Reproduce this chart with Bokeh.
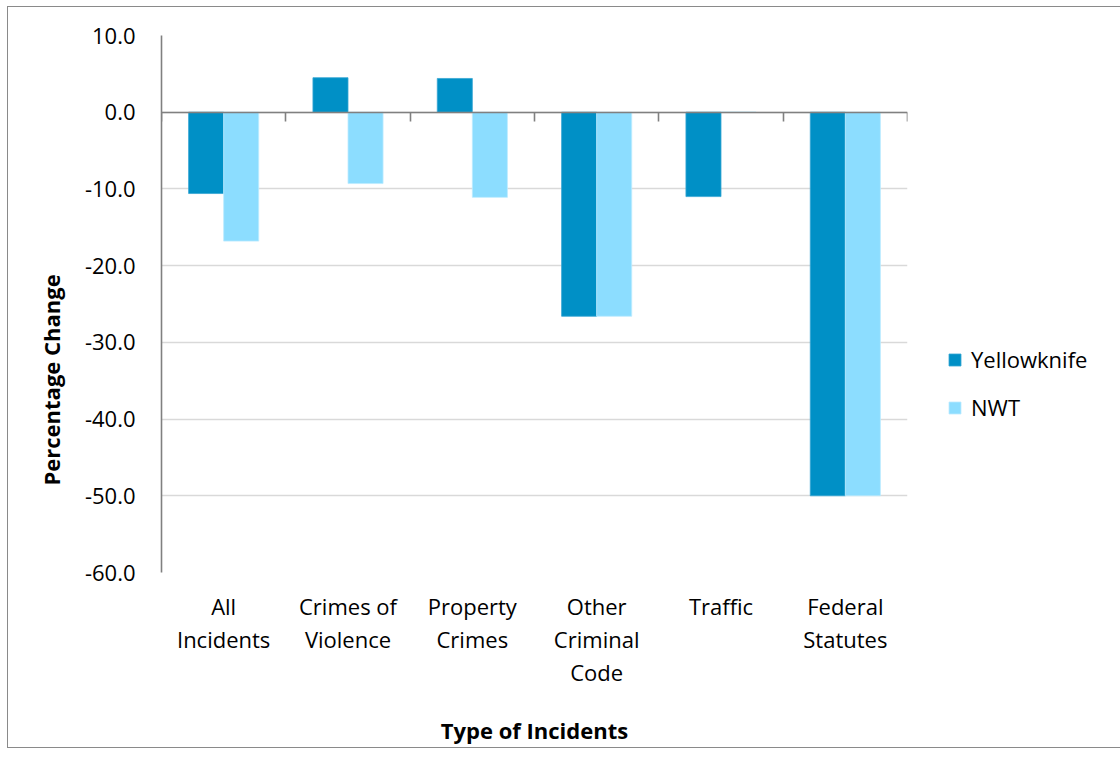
from bokeh.plotting import figure
from bokeh.models import (ColumnDataSource, FixedTicker, LinearAxis, NumeralTickFormatter,
                          Legend, LegendItem, Title, Range1d)
from bokeh.transform import dodge
from bokeh.embed import file_html
from bokeh.resources import INLINE

categories = ["All Incidents", "Crimes of Violence", "Property Crimes",
              "Other Criminal Code", "Traffic", "Federal Statutes"]
tick_labels = ["All\nIncidents", "Crimes of\nViolence", "Property\nCrimes",
               "Other\nCriminal\nCode", "Traffic", "Federal\nStatutes"]
yellowknife = [-10.6, 4.5, 4.4, -26.6, -11.0, -50.0]
nwt = [-16.8, -9.3, -11.1, -26.6, 0.0, -50.0]
series_names = ["Yellowknife", "NWT"]
y_ticks = [-60, -50, -40, -30, -20, -10, 0, 10]

FONT = "Open Sans"
YK_COLOR = "#0090C6"
NWT_COLOR = "#8CDDFF"
AXIS_COLOR = "#808080"
GRID_COLOR = "#D9D9D9"

n = len(categories)
centers = [i + 0.5 for i in range(n)]
src = ColumnDataSource(dict(x=centers, yk=yellowknife, nwt=nwt))

FRAME_W, FRAME_H = 746, 537
p = figure(width=1110, height=749, output_backend="svg", toolbar_location=None,
           x_range=Range1d(0, n), y_range=Range1d(-60, 10),
           frame_width=FRAME_W, frame_height=FRAME_H,
           min_border_left=153, min_border_top=28, min_border_right=10,
           x_axis_location=None, y_axis_location=None)
p.styles = {"border": "1px solid #8a8a8a", "margin-left": "7px", "margin-top": "6px"}
p.outline_line_color = None
p.background_fill_color = "white"
p.border_fill_color = "white"

bw = 0.282
r1 = p.vbar(x=dodge("x", -bw / 2, range=p.x_range), top="yk", bottom=0, width=bw,
            source=src, fill_color=YK_COLOR, line_color="#36A6D3", line_width=0.8)
r2 = p.vbar(x=dodge("x", bw / 2, range=p.x_range), top="nwt", bottom=0, width=bw,
            source=src, fill_color=NWT_COLOR, line_color="#BDEBFF", line_width=0.8)

# y axis
yax = LinearAxis(ticker=FixedTicker(ticks=y_ticks),
                 formatter=NumeralTickFormatter(format="0.0"))
yax.axis_line_color = AXIS_COLOR
yax.axis_line_width = 1.6
yax.major_tick_line_color = None
yax.minor_tick_line_color = None
yax.major_label_standoff = 20
yax.major_label_text_font = FONT
yax.major_label_text_font_size = "22px"
yax.major_label_text_color = "black"
p.add_layout(yax, "left")

# y axis title, placed toward the lower part like the reference
ytitle = Title(text="Percentage Change", align="left", offset=87, standoff=32,
               text_font=FONT, text_font_size="22px", text_font_style="bold",
               text_color="black")
p.add_layout(ytitle, "left")

p.ygrid.ticker = FixedTicker(ticks=y_ticks)
p.ygrid.grid_line_color = GRID_COLOR
p.ygrid.grid_line_width = 1.6
p.xgrid.visible = False

# category axis line at zero with boundary ticks
bounds = list(range(n + 1))
zax = LinearAxis(ticker=FixedTicker(ticks=bounds), fixed_location=0)
zax.major_label_overrides = {b: "" for b in bounds}
zax.axis_line_color = AXIS_COLOR
zax.axis_line_width = 1.6
zax.major_tick_line_color = AXIS_COLOR
zax.major_tick_line_width = 1.6
zax.major_tick_out = 9
zax.major_tick_in = 0
zax.minor_tick_line_color = None
zax.major_label_standoff = 0
p.add_layout(zax, "below")

# category labels (low position)
xax = LinearAxis(ticker=FixedTicker(ticks=centers))
xax.major_label_overrides = {c: t for c, t in zip(centers, tick_labels)}
xax.axis_line_color = None
xax.major_tick_line_color = None
xax.minor_tick_line_color = None
xax.major_label_standoff = 12
xax.major_label_text_font = FONT
xax.major_label_text_font_size = "22px"
xax.major_label_text_line_height = 1.1
xax.major_label_text_color = "black"
xax.axis_label = "Type of Incidents"
xax.axis_label_text_font = FONT
xax.axis_label_text_font_size = "22px"
xax.axis_label_text_font_style = "bold"
xax.axis_label_text_color = "black"
xax.axis_label_standoff = 25
p.add_layout(xax, "below")

legend = Legend(items=[LegendItem(label=series_names[0], renderers=[r1]),
                       LegendItem(label=series_names[1], renderers=[r2])],
                location=(40, 150), orientation="vertical")
legend.border_line_color = None
legend.background_fill_alpha = 0
legend.padding = 0
legend.margin = 0
legend.glyph_width = 15
legend.glyph_height = 15
legend.label_standoff = 9
legend.spacing = 18
legend.label_text_font = FONT
legend.label_text_font_size = "22px"
legend.label_text_color = "black"
p.add_layout(legend, "right")

open("out.html", "w").write(file_html(p, INLINE))
